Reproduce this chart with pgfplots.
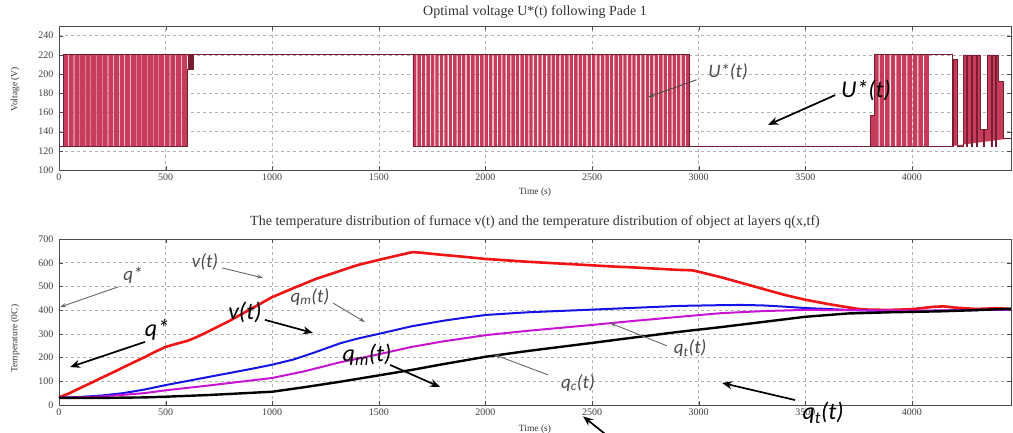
\documentclass[border=0pt]{standalone}
\usepackage{fontspec}
\setmainfont{Liberation Serif}
\newfontfamily\carl{Carlito}
\usepackage{pgfplots}
\pgfplotsset{compat=1.18}
\usetikzlibrary{arrows.meta}
\definecolor{barfill}{RGB}{198,60,90}
\definecolor{barline}{RGB}{120,28,48}
\definecolor{cred}{RGB}{240,20,20}
\definecolor{cblue}{RGB}{20,20,230}
\definecolor{cmag}{RGB}{200,20,210}
\pgfplotsset{matl/.style={
  scale only axis, width=952pt, xmin=0, xmax=4465,
  xtick={0,500,...,4000}, tick pos=both, tick align=inside,
  major tick length=4pt, grid=major,
  major grid style={black!30, dash pattern=on 3pt off 3pt, line width=0.5pt},
  axis line style={black!70, line width=0.8pt}, tick style={black!70},
  ticklabel style={font=\fontsize{10}{11}\selectfont, text=black!75},
  yticklabel style={xshift=-2pt},
  /pgf/number format/assume math mode=true, /pgf/number format/1000 sep={},
  title style={font=\fontsize{14}{15}\selectfont, text=black!80},
  xlabel={Time (s)},
  label style={font=\fontsize{9.5}{10}\selectfont, text=black!80},
  clip=false}}
\tikzset{garr/.style={black!60, line width=0.9pt, -{Stealth[length=6pt,width=4pt]}},
         barr/.style={black, line width=1.7pt, -{Stealth[length=10pt,width=8pt]}},
         glab/.style={font=\carl\itshape\fontsize{19}{20}\selectfont, text=black!70},
         blab/.style={font=\carl\itshape\fontsize{24}{25}\selectfont, text=black}}
\begin{document}
\begin{tikzpicture}
% ---------------- top panel ----------------
\begin{axis}[matl, at={(59pt,-170pt)}, anchor=south west, height=144pt,
  ymin=100, ymax=250, ytick={100,120,...,240},
  title={Optimal voltage U*(t) following Pade 1},
  title style={at={(0.5,1)}, anchor=base, yshift=5pt},
  xlabel style={at={(axis description cs:0.5,0)}, anchor=center, yshift=-22pt},
  ylabel={Voltage (V)}, ylabel style={at={(axis description cs:-0.046,0.56)}, anchor=center}]
% burst 1
\addplot[const plot, fill=barfill, draw=none] coordinates {
(0,125)(19,220)(42,125)(45,220)(69,125)(72,220)(95,125)(98,220)(122,125)(125,220)(148,125)(151,220)(175,125)(178,220)(201,125)(204,220)(228,125)(231,220)(254,125)(257,220)(281,125)(284,220)(307,125)(310,220)(334,125)(337,220)(360,125)(363,220)(387,125)(390,220)(413,125)(416,220)(440,125)(443,220)(466,125)(469,220)(493,125)(496,220)(519,125)(522,220)(546,125)(549,220)(572,125)(575,220)(601,125)(605,125)};
% burst 2
\addplot[const plot, fill=barfill, draw=none] coordinates {
(1660,125)(1660,220)(1676,125)(1681,220)(1697,125)(1702,220)(1717,125)(1723,220)(1739,125)(1744,220)(1760,125)(1765,220)(1780,125)(1786,220)(1802,125)(1807,220)(1823,125)(1828,220)(1843,125)(1849,220)(1865,125)(1870,220)(1886,125)(1891,220)(1906,125)(1912,220)(1928,125)(1933,220)(1949,125)(1954,220)(1969,125)(1975,220)(1991,125)(1996,220)(2012,125)(2017,220)(2032,125)(2038,220)(2054,125)(2059,220)(2075,125)(2080,220)(2095,125)(2101,220)(2117,125)(2122,220)(2138,125)(2143,220)(2158,125)(2164,220)(2180,125)(2185,220)(2201,125)(2206,220)(2221,125)(2227,220)(2243,125)(2248,220)(2264,125)(2269,220)(2284,125)(2290,220)(2306,125)(2311,220)(2327,125)(2332,220)(2347,125)(2353,220)(2369,125)(2374,220)(2390,125)(2395,220)(2410,125)(2416,220)(2432,125)(2437,220)(2453,125)(2458,220)(2473,125)(2479,220)(2495,125)(2500,220)(2516,125)(2521,220)(2536,125)(2542,220)(2558,125)(2563,220)(2579,125)(2584,220)(2599,125)(2605,220)(2621,125)(2626,220)(2642,125)(2647,220)(2662,125)(2668,220)(2684,125)(2689,220)(2705,125)(2710,220)(2725,125)(2731,220)(2747,125)(2752,220)(2768,125)(2773,220)(2788,125)(2794,220)(2810,125)(2815,220)(2831,125)(2836,220)(2851,125)(2857,220)(2873,125)(2878,220)(2894,125)(2899,220)(2914,125)(2920,220)(2936,125)(2941,220)(2955,125)};
% burst 3
\addplot[const plot, fill=barfill, draw=none] coordinates {
(3804,125)(3804,157)(3823,220)(3844,125)(3849,220)(3870,125)(3875,220)(3896,125)(3901,220)(3922,125)(3927,220)(3948,125)(3953,220)(3974,125)(3979,220)(4000,125)(4005,220)(4026,125)(4031,220)(4052,125)(4057,220)(4080,125)(4085,125)};
% burst 4
\addplot[const plot, fill=barfill, draw=barline, line width=0.6pt] coordinates {
(4188,125)(4193,215)(4214,125)(4240,220)(4257,125)(4261,220)(4280,125)(4284,220)(4302,125)(4306,220)(4320,142)(4336,125)(4340,142)(4353,220)(4371,125)(4375,220)(4390,125)(4394,220)(4404,192)(4428,133)(4465,133)};
% small blocks
\addplot[fill=barline, draw=barline, line width=0.5pt] coordinates {(605,205)(628,205)(628,220)(605,220)} -- cycle;
% envelope lines
\addplot[barline, line width=0.8pt] coordinates {(0,125)(19,125)(19,220)(1660,220)(1660,125)(3804,125)(3804,157)(3823,157)(3823,220)(4188,220)(4188,125)};
\addplot[barline, line width=0.8pt] coordinates {(19,125)(601,125)(601,205)};
\addplot[barline, line width=0.8pt] coordinates {(1660,220)(2955,220)(2955,125)};
\addplot[barline, line width=0.8pt] coordinates {(3804,125)(4188,125)};
% annotations
\node[glab] at (axis cs:3138,202) {U*(t)};
\draw[garr, black!70] (axis cs:2990,194) -- (axis cs:2763,176);
\node[blab] at (axis cs:3785,183) {U*(t)};
\draw[barr] (axis cs:3640,178) -- (axis cs:3326,147);
\end{axis}
% ---------------- bottom panel ----------------
\begin{axis}[matl, at={(59pt,-405pt)}, anchor=south west, height=166pt,
  ymin=0, ymax=700, ytick={0,100,...,700},
  title={The temperature distribution of furnace v(t) and the temperature distribution of object at layers q(x,tf)},
  title style={at={(0.5,1)}, anchor=base, yshift=8pt},
  xlabel style={at={(axis description cs:0.5,0)}, anchor=center, yshift=-24pt},
  ylabel={Temperature (0C)}, ylabel style={at={(axis description cs:-0.046,0.40)}, anchor=center}]
\addplot[cred, line width=2.6pt, line join=round] coordinates {
(0,32)(50,50)(100,72)(150,93)(200,115)(250,136)(300,158)(350,180)(400,201)(450,224)(500,245)(550,258)(600,270)(650,288)(700,310)(800,355)(900,405)(1000,455)(1100,493)(1200,530)(1300,560)(1400,590)(1500,612)(1600,633)(1660,645)(1700,642)(1800,633)(1900,625)(2000,616)(2100,610)(2200,604)(2300,599)(2400,594)(2500,589)(2600,584)(2700,580)(2800,575)(2900,570)(2970,568)(3000,562)(3100,540)(3200,515)(3300,490)(3400,465)(3500,444)(3600,427)(3700,412)(3750,405)(3800,402)(3900,401)(4000,404)(4100,414)(4150,416)(4200,411)(4300,405)(4400,408)(4465,405)};
\addplot[cblue, line width=2pt, line join=round] coordinates {
(0,30)(100,34)(200,40)(300,50)(400,65)(500,84)(600,101)(700,118)(800,135)(900,152)(1000,170)(1100,192)(1200,222)(1318,260)(1400,280)(1500,300)(1654,332)(1800,355)(1900,368)(2005,380)(2200,391)(2493,402)(2700,410)(2912,418)(3100,421)(3200,422)(3300,420)(3400,415)(3500,409)(3600,405)(3724,400)(3850,397)(4000,396)(4200,399)(4465,403)};
\addplot[cmag, line width=2pt, line join=round] coordinates {
(0,30)(200,36)(400,50)(500,62)(700,82)(1000,114)(1150,142)(1318,180)(1500,214)(1654,245)(1800,268)(2005,295)(2200,313)(2493,337)(2700,355)(2912,372)(3100,387)(3300,396)(3500,401)(3700,400)(4000,398)(4200,399)(4465,403)};
\addplot[black, line width=2.4pt, line join=round] coordinates {
(0,30)(200,30)(400,32)(500,35)(700,42)(1000,56)(1150,75)(1318,98)(1500,125)(1654,148)(1800,172)(2005,204)(2200,228)(2493,261)(2700,285)(2912,309)(3100,328)(3300,350)(3500,372)(3700,386)(3900,391)(4132,395)(4300,400)(4465,406)};
% annotations
\node[glab] at (axis cs:347,548) {q*};
\draw[garr] (axis cs:277,498) -- (axis cs:5,413);
\node[blab] at (axis cs:460,316) {q*};
\draw[barr] (axis cs:403,266) -- (axis cs:52,160);
\node[glab] at (axis cs:685,603) {v(t)};
\draw[garr] (axis cs:765,578) -- (axis cs:957,536);
\node[blab] at (axis cs:872,392) {v(t)};
\draw[barr] (axis cs:966,359) -- (axis cs:1191,304);
\node[glab] at (axis cs:1177,456) {q\textsubscript{m}(t)};
\draw[garr] (axis cs:1285,430) -- (axis cs:1435,350);
\node[blab] at (axis cs:1445,211) {q\textsubscript{m}(t)};
\draw[barr] (axis cs:1553,169) -- (axis cs:1787,76);
\node[glab] at (axis cs:2434,93) {q\textsubscript{c}(t)};
\draw[garr] (axis cs:2294,127) -- (axis cs:2040,213);
\node[glab] at (axis cs:2960,240) {q\textsubscript{t}(t)};
\draw[garr] (axis cs:2850,250) -- (axis cs:2584,346);
\node[blab] at (axis cs:3584,-34) {q\textsubscript{t}(t)};
\draw[barr] (axis cs:3452,21) -- (axis cs:3110,93);
\draw[barr] (axis cs:2600,-150) -- (axis cs:2458,-48);
\end{axis}
\pgfresetboundingbox
\useasboundingbox (0,0) rectangle (1013pt,-432pt);
\end{tikzpicture}
\end{document}
